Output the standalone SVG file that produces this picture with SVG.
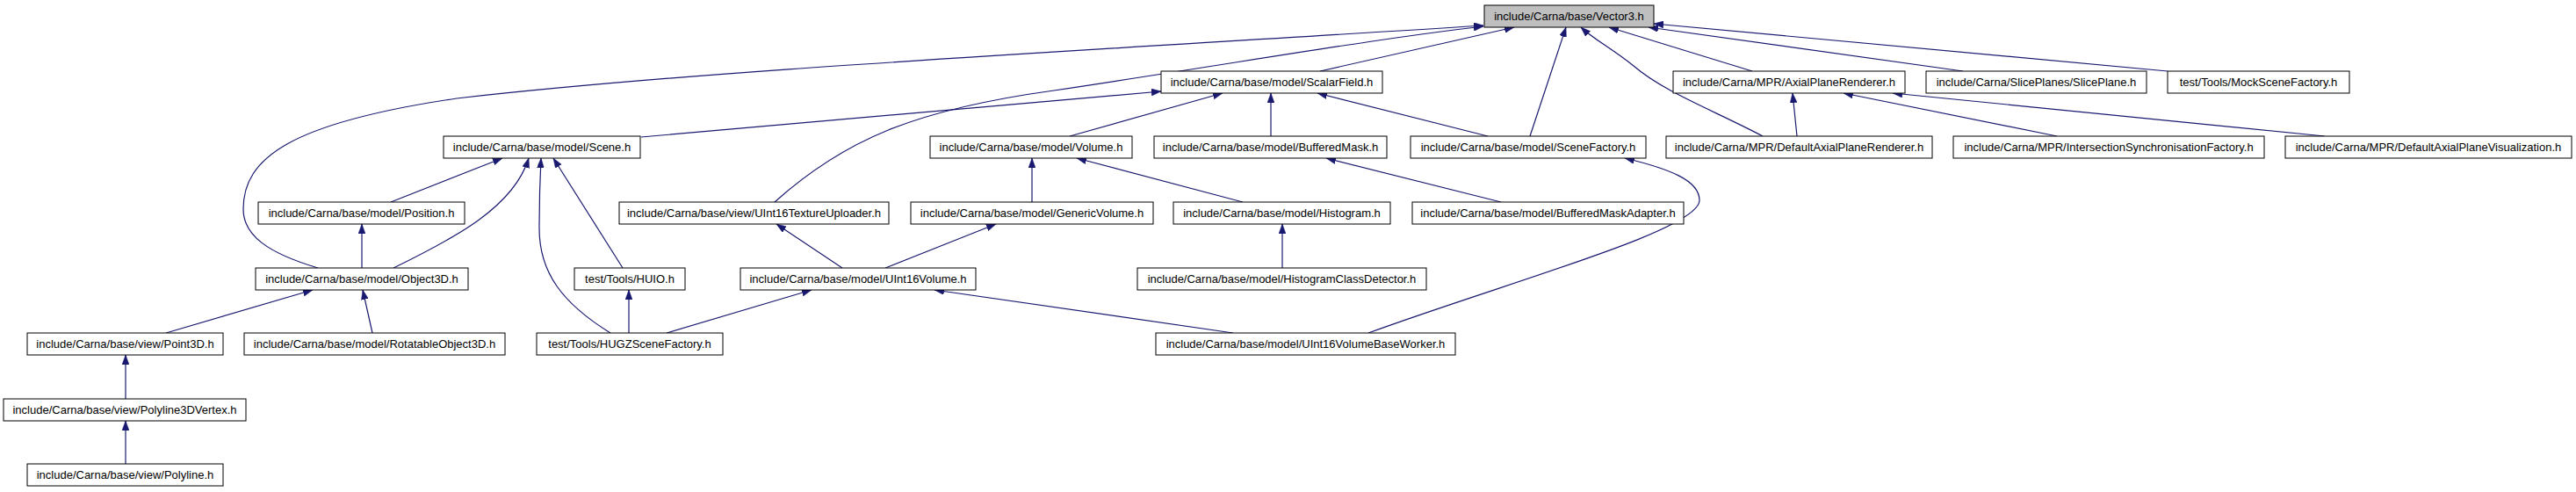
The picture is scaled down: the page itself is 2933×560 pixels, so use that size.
<svg xmlns="http://www.w3.org/2000/svg" width="2933" height="560" viewBox="0 0 2933 560">
<style>
.n rect{fill:#ffffff;stroke:#000000;stroke-width:1}
.n.root rect{fill:#bfbfbf}
.n text{font-family:"Liberation Sans",Arial,sans-serif;font-size:13px;fill:#000000;text-anchor:middle}
.e path{fill:none;stroke:#191970;stroke-width:1.2;marker-end:url(#ah)}
</style>
<defs>
<marker id="ah" markerUnits="userSpaceOnUse" viewBox="0 0 11 8" refX="11" refY="4" markerWidth="11" markerHeight="8" orient="auto">
<polygon points="0,0 11,4 0,8" fill="#191970" stroke="#191970" stroke-width="0.5"/>
</marker>
</defs>
<rect width="2933" height="560" fill="#ffffff"/>
<g id="edges" class="e">
<path d="M362,305 C305,288 277,268 277,238 C277,180 330,140 520,112 C800,80 1200,60 1689,29"/>
<path d="M882,230 C960,160 1040,125 1200,103 C1420,70 1560,45 1689,30"/>
<path d="M1503,81 L1724,31"/>
<path d="M1742,155 L1783,31"/>
<path d="M2007,155 C1950,125 1895,105 1860,75 C1835,55 1815,45 1800,31"/>
<path d="M1995,81 L1832,31"/>
<path d="M2235,81 L1877,31"/>
<path d="M2468,81 L1883,27"/>
<path d="M730,156 L1322,104"/>
<path d="M1218,155 L1392,106"/>
<path d="M1447,155 L1447,106"/>
<path d="M1694,155 L1500,106"/>
<path d="M2046,155 L2041,106"/>
<path d="M2342,155 L2099,106"/>
<path d="M2647,155 L2155,106"/>
<path d="M445,230 L572,180"/>
<path d="M448,305 C520,270 585,235 602,180"/>
<path d="M695,379 C640,345 614,310 614,260 C614,220 615,200 616,180"/>
<path d="M709,305 L630,180"/>
<path d="M412,305 L412,255"/>
<path d="M189,379 L356,330"/>
<path d="M424,379 L413,330"/>
<path d="M716,379 L716,330"/>
<path d="M759,379 L924,330"/>
<path d="M1404,379 L1064,330"/>
<path d="M1558,379 C1720,320 1935,262 1935,228 C1935,205 1900,192 1850,180"/>
<path d="M959,305 L884,255"/>
<path d="M1008,305 L1134,255"/>
<path d="M1175,230 L1175,180"/>
<path d="M1415,230 L1226,180"/>
<path d="M1460,305 L1460,255"/>
<path d="M1709,230 L1510,180"/>
<path d="M143,454 L143,404"/>
<path d="M143,528 L143,479"/>
</g>
<g id="n_vector3" class="n root"><rect x="1690" y="6" width="193" height="25"/><text x="1786.5" y="23">include/Carna/base/Vector3.h</text></g>
<g id="n_scalarfield" class="n"><rect x="1322" y="81" width="252" height="25"/><text x="1448" y="98">include/Carna/base/model/ScalarField.h</text></g>
<g id="n_axialplanerenderer" class="n"><rect x="1905" y="81" width="264" height="25"/><text x="2037" y="98">include/Carna/MPR/AxialPlaneRenderer.h</text></g>
<g id="n_sliceplane" class="n"><rect x="2193" y="81" width="251" height="25"/><text x="2318.5" y="98">include/Carna/SlicePlanes/SlicePlane.h</text></g>
<g id="n_mockscenefactory" class="n"><rect x="2468" y="81" width="207" height="25"/><text x="2571.5" y="98">test/Tools/MockSceneFactory.h</text></g>
<g id="n_scene" class="n"><rect x="505" y="155" width="224" height="25"/><text x="617" y="172">include/Carna/base/model/Scene.h</text></g>
<g id="n_volume" class="n"><rect x="1059" y="155" width="230" height="25"/><text x="1174" y="172">include/Carna/base/model/Volume.h</text></g>
<g id="n_bufferedmask" class="n"><rect x="1314" y="155" width="265" height="25"/><text x="1446.5" y="172">include/Carna/base/model/BufferedMask.h</text></g>
<g id="n_scenefactory" class="n"><rect x="1606" y="155" width="268" height="25"/><text x="1740" y="172">include/Carna/base/model/SceneFactory.h</text></g>
<g id="n_defaultaxialplanerenderer" class="n"><rect x="1897" y="155" width="303" height="25"/><text x="2048.5" y="172">include/Carna/MPR/DefaultAxialPlaneRenderer.h</text></g>
<g id="n_intersectionsync" class="n"><rect x="2224" y="155" width="354" height="25"/><text x="2401" y="172">include/Carna/MPR/IntersectionSynchronisationFactory.h</text></g>
<g id="n_defaultaxialplanevis" class="n"><rect x="2602" y="155" width="326" height="25"/><text x="2765" y="172">include/Carna/MPR/DefaultAxialPlaneVisualization.h</text></g>
<g id="n_position" class="n"><rect x="294" y="230" width="235" height="25"/><text x="411.5" y="247">include/Carna/base/model/Position.h</text></g>
<g id="n_uint16textureuploader" class="n"><rect x="705" y="230" width="307" height="25"/><text x="858.5" y="247">include/Carna/base/view/UInt16TextureUploader.h</text></g>
<g id="n_genericvolume" class="n"><rect x="1037" y="230" width="276" height="25"/><text x="1175" y="247">include/Carna/base/model/GenericVolume.h</text></g>
<g id="n_histogram" class="n"><rect x="1336" y="230" width="247" height="25"/><text x="1459.5" y="247">include/Carna/base/model/Histogram.h</text></g>
<g id="n_bufferedmaskadapter" class="n"><rect x="1608" y="230" width="309" height="25"/><text x="1762.5" y="247">include/Carna/base/model/BufferedMaskAdapter.h</text></g>
<g id="n_object3d" class="n"><rect x="291" y="305" width="242" height="25"/><text x="412" y="322">include/Carna/base/model/Object3D.h</text></g>
<g id="n_huio" class="n"><rect x="654" y="305" width="126" height="25"/><text x="717" y="322">test/Tools/HUIO.h</text></g>
<g id="n_uint16volume" class="n"><rect x="843" y="305" width="268" height="25"/><text x="977" y="322">include/Carna/base/model/UInt16Volume.h</text></g>
<g id="n_histogramclassdetector" class="n"><rect x="1295" y="305" width="329" height="25"/><text x="1459.5" y="322">include/Carna/base/model/HistogramClassDetector.h</text></g>
<g id="n_point3d" class="n"><rect x="31" y="379" width="223" height="25"/><text x="142.5" y="396">include/Carna/base/view/Point3D.h</text></g>
<g id="n_rotatableobject3d" class="n"><rect x="278" y="379" width="297" height="25"/><text x="426.5" y="396">include/Carna/base/model/RotatableObject3D.h</text></g>
<g id="n_hugzscenefactory" class="n"><rect x="611" y="379" width="212" height="25"/><text x="717" y="396">test/Tools/HUGZSceneFactory.h</text></g>
<g id="n_uint16volumebaseworker" class="n"><rect x="1316" y="379" width="341" height="25"/><text x="1486.5" y="396">include/Carna/base/model/UInt16VolumeBaseWorker.h</text></g>
<g id="n_polyline3dvertex" class="n"><rect x="4" y="454" width="276" height="25"/><text x="142" y="471">include/Carna/base/view/Polyline3DVertex.h</text></g>
<g id="n_polyline" class="n"><rect x="31" y="528" width="223" height="25"/><text x="142.5" y="545">include/Carna/base/view/Polyline.h</text></g>
</svg>
